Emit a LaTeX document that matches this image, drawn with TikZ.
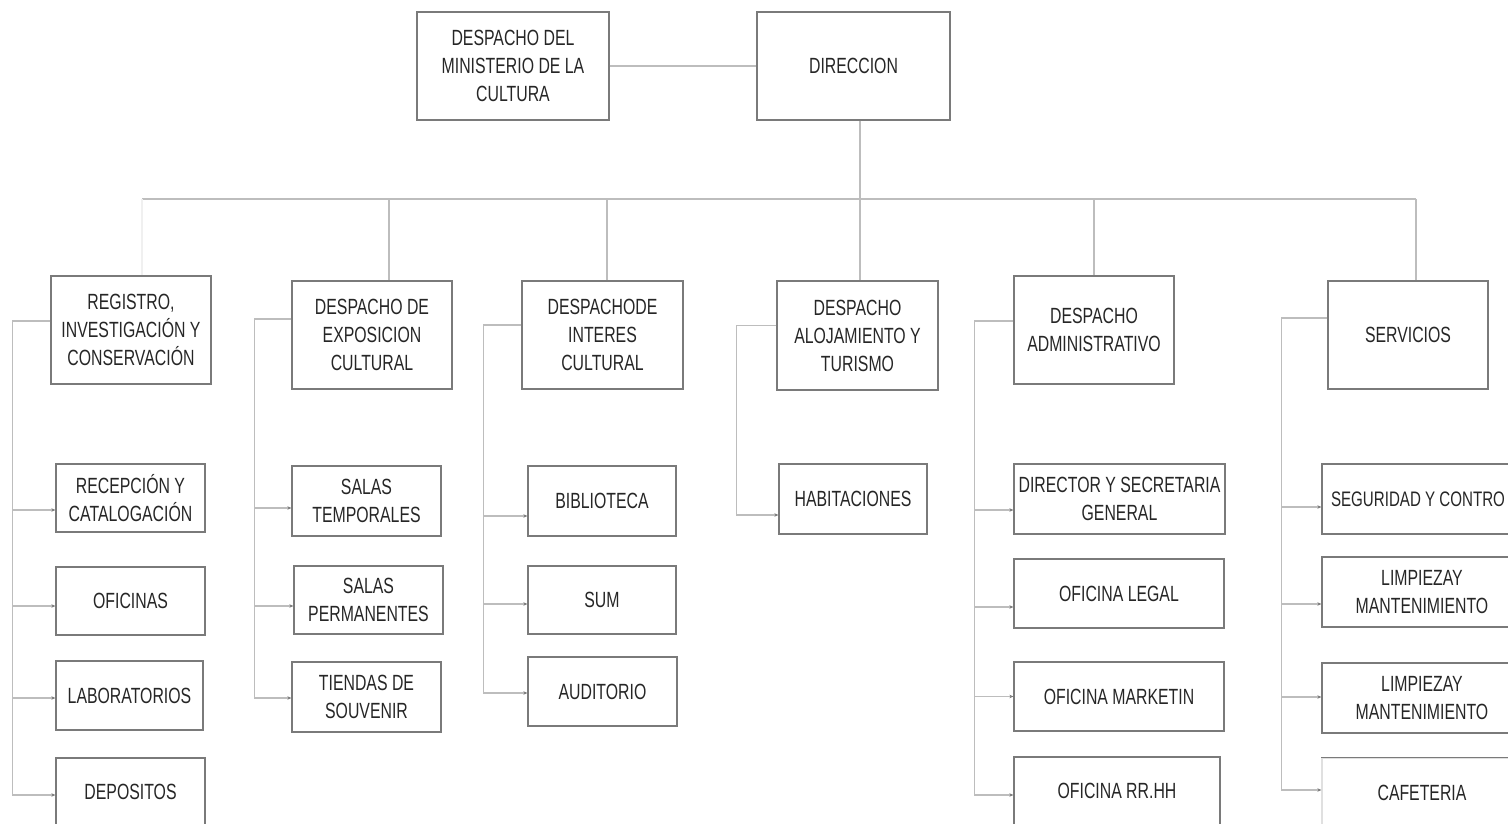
\documentclass[tikz,border=0pt]{standalone}
\usepackage{fontspec}
\setmainfont{Liberation Sans}[FakeStretch=0.72]
\usetikzlibrary{arrows.meta}
\definecolor{boxline}{HTML}{7A7A7A}
\definecolor{connline}{HTML}{BDBDBD}
\definecolor{txt}{HTML}{262626}
\begin{document}
\begin{tikzpicture}[x=1pt, y=-1pt,
  box/.style={draw=boxline, line width=1.3pt, align=center, inner sep=0pt, text=txt,
    font=\fontsize{22}{28}\selectfont},
  sz/.style 2 args={minimum width=#1pt, minimum height=#2pt},
  conn/.style={draw=connline, line width=1.1pt},
  arr/.style={conn, -{Stealth[length=4pt, width=3.5pt, color=boxline]}}]
\useasboundingbox (0,0) rectangle (1508,824);
\clip (0,0) rectangle (1508,824);

% top level
\node[box, sz={192}{108}] (mincult) at (513,66) {DESPACHO DEL\\MINISTERIO DE LA\\CULTURA};
\node[box, sz={193}{108}] (direc) at (853.5,66) {DIRECCION};
\draw[conn] (mincult.east) -- (direc.west);

% departments
\node[box, sz={160}{108}] (registro) at (131,330) {REGISTRO,\\INVESTIGACIÓN Y\\CONSERVACIÓN};
\node[box, sz={160}{108}] (exposicion) at (372,335) {DESPACHO DE\\EXPOSICION\\CULTURAL};
\node[box, sz={161}{108}] (interes) at (602.5,335) {DESPACHODE\\INTERES\\CULTURAL};
\node[box, sz={161}{109}] (alojam) at (857.5,335.5) {DESPACHO\\ALOJAMIENTO Y\\TURISMO};
\node[box, sz={160}{108}] (admin) at (1094,330) {DESPACHO\\ADMINISTRATIVO};
\node[box, sz={160}{108}] (servic) at (1408,335) {SERVICIOS};

% bus
\coordinate (busL) at (142,199);
\coordinate (busR) at (1416,199);
\draw[conn] (busL) -- (busR);
\draw[conn] ([xshift=6.5pt]direc.south) -- ++(0,79);
\draw[conn, draw=black!6] (busL) -- (busL |- registro.north);
\foreach \n/\x in {exposicion/389, interes/607, alojam/860, admin/1094, servic/1416} {
  \coordinate (d\n) at (\x,199);
  \draw[conn] (d\n) -- (d\n |- \n.north);
}

% registro
\node[box, sz={149}{68}] (recep) at (130.5,498) {RECEPCIÓN Y\\CATALOGACIÓN};
\node[box, sz={149}{68}] (ofic) at (130.5,601) {OFICINAS};
\node[box, sz={147}{69}] (labor) at (129.5,695.5) {LABORATORIOS};
\node[box, sz={149}{68}] (depos) at (130.5,792) {DEPOSITOS};
\coordinate (t1) at ([xshift=-38pt, yshift=9pt]registro.west);
\draw[conn] ([yshift=9pt]registro.west) -- (t1);
\foreach \c/\dy in {recep/-12, ofic/-5, labor/-2.5, depos/-3}
  \draw[arr] (t1) |- ([yshift=\dy pt]\c.west);

% exposicion
\node[box, sz={149}{70}] (salastemp) at (366.5,501) {SALAS\\TEMPORALES};
\node[box, sz={149}{68}] (salasperm) at (368.5,600) {SALAS\\PERMANENTES};
\node[box, sz={149}{70}] (tiendas) at (366.5,697) {TIENDAS DE\\SOUVENIR};
\coordinate (t2) at ([xshift=-37pt, yshift=16pt]exposicion.west);
\draw[conn] ([yshift=16pt]exposicion.west) -- (t2);
\foreach \c/\dy in {salastemp/-7, salasperm/-6, tiendas/-1}
  \draw[arr] (t2) |- ([yshift=\dy pt]\c.west);

% interes
\node[box, sz={148}{70}] (biblio) at (602,501) {BIBLIOTECA};
\node[box, sz={148}{68}] (sum) at (602,600) {SUM};
\node[box, sz={149}{69}] (audit) at (602.5,691.5) {AUDITORIO};
\coordinate (t3) at ([xshift=-38pt, yshift=10pt]interes.west);
\draw[conn] ([yshift=10pt]interes.west) -- (t3);
\foreach \c/\dy in {biblio/-15, sum/-4, audit/-1.5}
  \draw[arr] (t3) |- ([yshift=\dy pt]\c.west);

% alojamiento
\node[box, sz={148}{70}] (habit) at (853,499) {HABITACIONES};
\coordinate (t4) at ([xshift=-40pt, yshift=10pt]alojam.west);
\draw[conn] ([yshift=10pt]alojam.west) -- (t4);
\draw[arr] (t4) |- ([yshift=-16pt]habit.west);

% administrativo
\node[box, sz={211}{70}] (director) at (1119.5,499) {DIRECTOR Y SECRETARIA\\GENERAL};
\node[box, sz={210}{69}] (oflegal) at (1119,593.5) {OFICINA LEGAL};
\node[box, sz={210}{69}] (marketin) at (1119,696.5) {OFICINA MARKETIN};
\node[box, sz={206}{68}] (rrhh) at (1117,791) {OFICINA RR.HH};
\coordinate (t5) at ([xshift=-39pt, yshift=9pt]admin.west);
\draw[conn] ([yshift=9pt]admin.west) -- (t5);
\foreach \c/\dy in {director/-11, oflegal/-13.5, marketin/0, rrhh/-4}
  \draw[arr] (t5) |- ([yshift=\dy pt]\c.west);

% servicios
\node[box, sz={192}{70}, font=\fontsize{21}{28}\selectfont] (segur) at (1418,499) {SEGURIDAD Y CONTRO};
\node[box, sz={200}{70}] (limp1) at (1422,592) {LIMPIEZAY\\MANTENIMIENTO};
\node[box, sz={200}{70}] (limp2) at (1422,698) {LIMPIEZAY\\MANTENIMIENTO};
\node[box, sz={200}{70}, draw=black!12] (cafe) at (1422,793) {CAFETERIA};
\draw[boxline, line width=1.3pt] (cafe.north west) -- (cafe.north east);
\coordinate (t6) at ([xshift=-46pt, yshift=17pt]servic.west);
\draw[conn] ([yshift=17pt]servic.west) -- (t6);
\foreach \c/\dy in {segur/-8, limp1/-12, limp2/1, cafe/3}
  \draw[arr] (t6) |- ([yshift=\dy pt]\c.west);
\end{tikzpicture}
\end{document}
